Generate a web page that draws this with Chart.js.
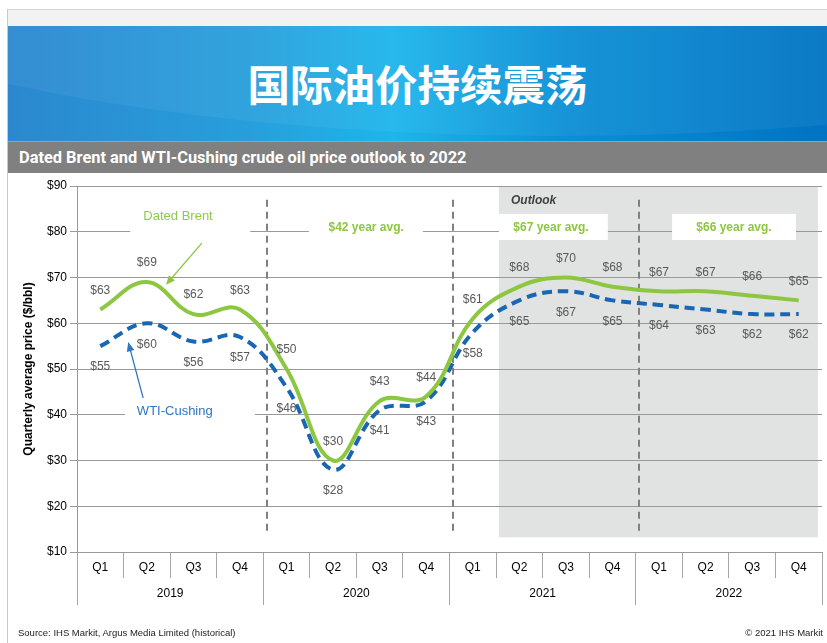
<!DOCTYPE html>
<html>
<head>
<meta charset="utf-8">
<script src="https://cdn.jsdelivr.net/npm/chart.js@4.4.0/dist/chart.umd.min.js"></script>
<style>
  html, body { margin: 0; padding: 0; background: #fff; }
  body { width: 827px; height: 643px; position: relative; overflow: hidden; font-family: "Liberation Sans", Arial, sans-serif; }
  #frame { position: absolute; left: 7px; top: 9px; right: 0; bottom: 0; border-left: 1px solid #c8c8c8; border-top: 1px solid #d4d4d4; }
  #strip { position: absolute; left: 8px; top: 10px; right: 0; height: 16px; background: #f2f2f2; }
  #banner { position: absolute; left: 8px; top: 26px; right: 0; height: 115px; overflow: hidden;
    background: linear-gradient(90deg, #2b88cf 0%, #279fdc 30%, #1db5eb 47%, #0b8fd6 68%, #0073c3 100%); }
  #banner .sheen { position: absolute; left: -300px; top: -330px; width: 1700px; height: 440px; border-radius: 50%;
    background: rgba(255,255,255,0.05); }
  #banner h1 { margin: 0; position: absolute; left: 0; right: 0; top: 0;
    color: #fff; font: bold 42.5px "Noto Sans CJK SC", sans-serif; line-height: 114px; text-align: center; }
  #bar { position: absolute; left: 8px; top: 141px; right: 0; height: 32px; background: #808080; border-top: 1px solid #a0a0a0; box-sizing: border-box; }
  #bar span { position: absolute; left: 11px; top: 0; color: #fff; font: bold 16.4px Roboto, "Liberation Sans", Arial, sans-serif; line-height: 32px; }
  #chartBox { position: absolute; left: 0; top: 173px; width: 827px; height: 470px; }
  .foot { position: absolute; top: 627px; font-size: 9.5px; color: #222; }
</style>
</head>
<body>
<div id="frame"></div>
<div id="strip"></div>
<div id="banner"><div class="sheen"></div><h1>国际油价持续震荡</h1></div>
<div id="bar"><span>Dated Brent and WTI-Cushing crude oil price outlook to 2022</span></div>
<div id="chartBox"><canvas id="oilChart" width="827" height="470"></canvas></div>
<div class="foot" style="left:18px;">Source: IHS Markit, Argus Media Limited (historical)</div>
<div class="foot" style="right:4px;">© 2021 IHS Markit</div>

<script>
// Chart data
const quarters = ['Q1', 'Q2', 'Q3', 'Q4', 'Q1', 'Q2', 'Q3', 'Q4', 'Q1', 'Q2', 'Q3', 'Q4', 'Q1', 'Q2', 'Q3', 'Q4'];
const years = ['2019', '2020', '2021', '2022'];
const brent = [63, 69, 62, 63, 50, 30, 43, 44, 61, 68, 70, 68, 67, 67, 66, 65];
const wti = [55, 60, 56, 57, 46, 28, 41, 43, 58, 65, 67, 65, 64, 63, 62, 62];
const yMin = 10, yMax = 90, yStep = 10;

// annotations, in category index / price units
const yearDividers = [3.58, 7.58, 11.58];
const outlookSpan = [8.56, 15.41];
const whiteBoxes = [
    [0.64, 3.22, 82, 78],
    [4.48, 6.93, 82, 78],
    [8.56, 10.9, 83.9, 78.2],
    [12.28, 14.94, 83.9, 78.2],
    [0.53, 3.32, 42, 38]
];
const notes = [
    { text: 'Dated Brent', x: 1.67, y: 83.4, color: '#8fcb4a', font: '13px "Liberation Sans", Arial', align: 'center' },
    { text: '$42 year avg.', x: 5.71, y: 80.8, color: '#8dc63f', font: 'bold 12px "Liberation Sans", Arial', align: 'center' },
    { text: '$67 year avg.', x: 9.68, y: 80.8, color: '#8dc63f', font: 'bold 12px "Liberation Sans", Arial', align: 'center' },
    { text: '$66 year avg.', x: 13.61, y: 80.8, color: '#8dc63f', font: 'bold 12px "Liberation Sans", Arial', align: 'center' },
    { text: 'WTI-Cushing', x: 1.60, y: 40.8, color: '#2e75c6', font: '13px "Liberation Sans", Arial', align: 'center' },
    { text: 'Outlook', x: 8.82, y: 86.7, color: '#404040', font: 'italic bold 12px "Liberation Sans", Arial', align: 'left' }
];
const arrows = [
    { from: [2.18, 77.5], to: [1.41, 68.4], color: '#8dc63f' },
    { from: [0.92, 43.7], to: [0.60, 55.9], color: '#2e75c6' }
];

const BRENT_GREEN = '#8dc641';
const WTI_BLUE = '#1866b4';

const backdrop = {
    id: 'backdrop',
    beforeDraw(chart) {
        const { ctx, scales: { x, y } } = chart;
        ctx.save();
        ctx.fillStyle = '#e1e2e2';
        const x0 = x.getPixelForValue(outlookSpan[0]), x1 = x.getPixelForValue(outlookSpan[1]);
        const y0 = y.getPixelForValue(90), y1 = y.getPixelForValue(13.2);
        ctx.fillRect(x0, y0, x1 - x0, y1 - y0);
        ctx.restore();
    },
    beforeDatasetsDraw(chart) {
        const { ctx, scales: { x, y } } = chart;
        ctx.save();
        ctx.fillStyle = '#ffffff';
        whiteBoxes.forEach(b => {
            const l = x.getPixelForValue(b[0]), r = x.getPixelForValue(b[1]);
            const t = y.getPixelForValue(b[2]), btm = y.getPixelForValue(b[3]);
            ctx.fillRect(l, t, r - l, btm - t);
        });
        ctx.strokeStyle = '#808080';
        ctx.lineWidth = 2;
        ctx.setLineDash([7, 5]);
        yearDividers.forEach(d => {
            const px = Math.round(x.getPixelForValue(d));
            ctx.beginPath();
            ctx.moveTo(px, y.getPixelForValue(87));
            ctx.lineTo(px, y.getPixelForValue(14.2));
            ctx.stroke();
        });
        ctx.restore();
    }
};

const valueLabels = {
    id: 'valueLabels',
    afterDatasetsDraw(chart) {
        const { ctx, scales: { x, y } } = chart;
        ctx.save();
        ctx.font = '12px "Liberation Sans", Arial';
        ctx.fillStyle = '#595959';
        ctx.textAlign = 'center';
        ctx.textBaseline = 'middle';
        brent.forEach((v, i) => ctx.fillText('$' + v, x.getPixelForValue(i), y.getPixelForValue(v) - 19));
        wti.forEach((v, i) => ctx.fillText('$' + v, x.getPixelForValue(i), y.getPixelForValue(v) + 21));

        notes.forEach(n => {
            ctx.font = n.font;
            ctx.fillStyle = n.color;
            ctx.textAlign = n.align;
            ctx.fillText(n.text, x.getPixelForValue(n.x), y.getPixelForValue(n.y));
        });

        arrows.forEach(a => {
            const fx = x.getPixelForValue(a.from[0]), fy = y.getPixelForValue(a.from[1]);
            const tx = x.getPixelForValue(a.to[0]), ty = y.getPixelForValue(a.to[1]);
            const ang = Math.atan2(ty - fy, tx - fx);
            ctx.strokeStyle = a.color;
            ctx.fillStyle = a.color;
            ctx.lineWidth = 1.3;
            ctx.beginPath();
            ctx.moveTo(fx, fy);
            ctx.lineTo(tx - 6 * Math.cos(ang), ty - 6 * Math.sin(ang));
            ctx.stroke();
            ctx.beginPath();
            ctx.moveTo(tx, ty);
            ctx.lineTo(tx - 10 * Math.cos(ang - 0.4), ty - 10 * Math.sin(ang - 0.4));
            ctx.lineTo(tx - 10 * Math.cos(ang + 0.4), ty - 10 * Math.sin(ang + 0.4));
            ctx.closePath();
            ctx.fill();
        });
        ctx.restore();
    }
};

const tickFont = { family: '"Liberation Sans", Arial', size: 12 };

new Chart(document.getElementById('oilChart'), {
    type: 'line',
    data: {
        labels: quarters,
        datasets: [
            {
                label: 'Dated Brent',
                data: brent,
                borderColor: BRENT_GREEN,
                borderWidth: 4,
                pointRadius: 0,
                tension: 0.4,
                fill: false
            },
            {
                label: 'WTI-Cushing',
                data: wti,
                borderColor: WTI_BLUE,
                borderWidth: 4,
                borderDash: [10, 6],
                pointRadius: 0,
                tension: 0.4,
                fill: false
            }
        ]
    },
    options: {
        responsive: false,
        animation: false,
        events: [],
        layout: { padding: { top: 13, right: 5, left: 0, bottom: 38 } },
        plugins: {
            legend: { display: false },
            tooltip: { enabled: false }
        },
        scales: {
            x: {
                type: 'category',
                position: 'bottom',
                weight: 0,
                offset: true,
                grid: { offset: true, drawOnChartArea: false, tickLength: 26, color: '#a6a6a6' },
                border: { color: '#999' },
                ticks: { color: '#000', font: tickFont, padding: -18, maxRotation: 0, autoSkip: false },
                afterFit: s => { s.height = 26; }
            },
            x2: {
                type: 'category',
                labels: years,
                position: 'bottom',
                weight: 1,
                offset: true,
                grid: { offset: true, drawOnChartArea: false, tickLength: 27, color: '#a6a6a6' },
                border: { display: false },
                ticks: { color: '#000', font: tickFont, padding: -19, maxRotation: 0, autoSkip: false },
                afterFit: s => { s.height = 27; }
            },
            y: {
                min: yMin,
                max: yMax,
                grid: { color: '#999', tickLength: 7 },
                border: { color: '#999' },
                ticks: { stepSize: yStep, color: '#000', font: tickFont, padding: 3, callback: v => '$' + v },
                title: {
                    display: true,
                    text: 'Quarterly average price ($/bbl)',
                    color: '#000',
                    font: { family: '"Liberation Sans", Arial', size: 12, weight: 'bold' },
                    padding: { top: 21, bottom: 0 }
                },
                afterFit: s => { s.width = 77; }
            }
        }
    },
    plugins: [backdrop, valueLabels]
});
</script>
</body>
</html>
